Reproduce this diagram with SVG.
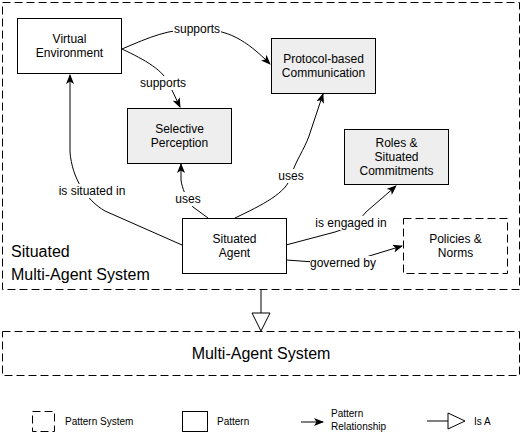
<svg xmlns="http://www.w3.org/2000/svg" width="525" height="436" viewBox="0 0 525 436">
<defs>
<style>
.n{stroke:#000;stroke-width:1;fill:#fff}
.g{fill:#eeeeee}
.d{stroke-dasharray:8 4}
.t{font-family:"Liberation Sans",Arial,sans-serif;font-size:12px;fill:#000;text-anchor:middle}
.lbl{font-family:"Liberation Sans",Arial,sans-serif;font-size:12px;fill:#000;text-anchor:middle}
.big{font-family:"Liberation Sans",Arial,sans-serif;font-size:16px;fill:#000}
.leg{font-family:"Liberation Sans",Arial,sans-serif;font-size:10px;fill:#000}
.e{fill:none;stroke:#000;stroke-width:1;marker-end:url(#arr)}
.bg{fill:#fff}
</style>
<marker id="arr" viewBox="0 0 10 8" refX="9" refY="4" markerWidth="10" markerHeight="8" markerUnits="userSpaceOnUse" orient="auto">
<path d="M0,0 L10,4 L0,8 L2.5,4 Z" fill="#000"/>
</marker>
</defs>
<rect width="525" height="436" fill="#fff"/>

<g id="situated-mas">
<rect x="2.5" y="2.5" width="517" height="287" class="n d"/>
<text class="big" x="11" y="257">Situated</text>
<text class="big" x="11" y="280">Multi-Agent System</text>
</g>

<g id="connectors">
<path class="e" d="M122,49 C150,37 168,29 197,29 C228,29 246,40 270,64"/>
<path class="e" d="M122,49 C145,60 164,70 170,86 L180,107"/>
<path class="e" d="M182,245 L105,211 C86,200 72,178 70,152 L70,75"/>
<path class="e" d="M208,218 L193,207 C186,198 182,188 181,180 L181,164"/>
<path class="e" d="M235,218 C262,205 287,193 291,176 C296,160 304,150 309,136 L323,94"/>
<path class="e" d="M286,245 L335,232 C350,227 358,222 366,212 L396,186"/>
<path class="e" d="M286,260 L343,264 L402,246"/>
<path fill="none" stroke="#000" d="M261,290 L261,313"/>
<path fill="#fff" stroke="#000" d="M252,313 L270,313 L261,331 Z"/>
</g>

<g id="edge-labels">
<rect class="bg" x="173" y="22" width="48" height="14"/>
<text class="lbl" x="197" y="33">supports</text>
<rect class="bg" x="139" y="76" width="48" height="14"/>
<text class="lbl" x="163" y="87">supports</text>
<rect class="bg" x="58" y="184" width="68" height="14"/>
<text class="lbl" x="92" y="195">is situated in</text>
<rect class="bg" x="175" y="192" width="27" height="14"/>
<text class="lbl" x="188" y="203">uses</text>
<rect class="bg" x="277" y="169" width="28" height="14"/>
<text class="lbl" x="291" y="180">uses</text>
<rect class="bg" x="314" y="216" width="74" height="14"/>
<text class="lbl" x="351" y="227">is engaged in</text>
<rect class="bg" x="310" y="256" width="66" height="14"/>
<text class="lbl" x="343" y="267">governed by</text>
</g>

<g id="virtual-environment">
<rect x="17.5" y="18.5" width="104" height="55" class="n"/>
<text class="t" x="69.5" y="43">Virtual</text>
<text class="t" x="69.5" y="57">Environment</text>
</g>

<g id="protocol-communication">
<rect x="271.5" y="38.5" width="104" height="55" class="n g"/>
<text class="t" x="323.5" y="63">Protocol-based</text>
<text class="t" x="323.5" y="77">Communication</text>
</g>

<g id="selective-perception">
<rect x="127.5" y="108.5" width="104" height="55" class="n g"/>
<text class="t" x="179.5" y="133">Selective</text>
<text class="t" x="179.5" y="147">Perception</text>
</g>

<g id="roles-commitments">
<rect x="344.5" y="129.5" width="104" height="55" class="n g"/>
<text class="t" x="396.5" y="147">Roles &amp;</text>
<text class="t" x="396.5" y="161">Situated</text>
<text class="t" x="396.5" y="175">Commitments</text>
</g>

<g id="situated-agent">
<rect x="182.5" y="218.5" width="104" height="55" class="n"/>
<text class="t" x="234.5" y="243">Situated</text>
<text class="t" x="234.5" y="257">Agent</text>
</g>

<g id="policies-norms">
<rect x="403.5" y="218.5" width="104" height="55" class="n d"/>
<text class="t" x="455.5" y="243">Policies &amp;</text>
<text class="t" x="455.5" y="257">Norms</text>
</g>

<g id="multi-agent-system">
<rect x="2.5" y="331.5" width="517" height="44" class="n d"/>
<text class="big" x="261" y="359" text-anchor="middle">Multi-Agent System</text>
</g>

<g id="legend">
<rect x="32.5" y="411.5" width="22" height="20" class="n d"/>
<text class="leg" x="65" y="425">Pattern System</text>
<rect x="182.5" y="411.5" width="25" height="20" class="n"/>
<text class="leg" x="217" y="425">Pattern</text>
<path class="e" d="M301,422 L323,422"/>
<text class="leg" x="331" y="417">Pattern</text>
<text class="leg" x="331" y="430">Relationship</text>
<path fill="none" stroke="#000" d="M427,421 L448,421"/>
<path fill="#fff" stroke="#000" d="M448,413 L465,421 L448,429 Z"/>
<text class="leg" x="474" y="425">Is A</text>
</g>
</svg>
